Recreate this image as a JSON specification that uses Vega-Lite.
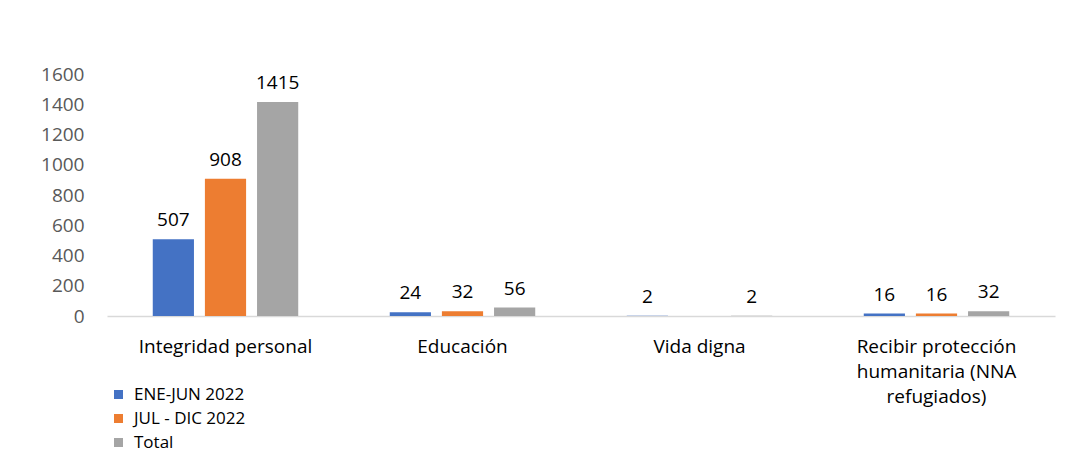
{
  "$schema": "https://vega.github.io/schema/vega-lite/v6.json",
  "width": 948,
  "height": 242,
  "autosize": {"type": "none"},
  "padding": {"left": 107, "top": 74, "right": 20, "bottom": 155},
  "background": "white",
  "config": {"view": {"stroke": null}, "font": "Open Sans"},
  "data": {
    "values": [
      {"categoria": "Integridad personal", "serie": "ENE-JUN 2022", "valor": 507},
      {"categoria": "Integridad personal", "serie": "JUL - DIC 2022", "valor": 908},
      {"categoria": "Integridad personal", "serie": "Total", "valor": 1415},
      {"categoria": "Educación", "serie": "ENE-JUN 2022", "valor": 24},
      {"categoria": "Educación", "serie": "JUL - DIC 2022", "valor": 32},
      {"categoria": "Educación", "serie": "Total", "valor": 56},
      {"categoria": "Vida digna", "serie": "ENE-JUN 2022", "valor": 2},
      {"categoria": "Vida digna", "serie": "JUL - DIC 2022", "valor": null},
      {"categoria": "Vida digna", "serie": "Total", "valor": 2},
      {"categoria": "Recibir protección humanitaria (NNA refugiados)", "serie": "ENE-JUN 2022", "valor": 16},
      {"categoria": "Recibir protección humanitaria (NNA refugiados)", "serie": "JUL - DIC 2022", "valor": 16},
      {"categoria": "Recibir protección humanitaria (NNA refugiados)", "serie": "Total", "valor": 32}
    ]
  },
  "encoding": {
    "x": {
      "field": "categoria",
      "type": "nominal",
      "sort": null,
      "scale": {"paddingInner": 0.34, "paddingOuter": 0.17},
      "axis": {
        "title": null,
        "labelAngle": 0,
        "ticks": false,
        "domainColor": "#d9d9d9",
        "domainWidth": 1.5,
        "labelFontSize": 19,
        "labelColor": "#000000",
        "labelPadding": 21,
        "labelLineHeight": 25,
        "labelLimit": 300,
        "labelExpr": "datum.value == 'Recibir protección humanitaria (NNA refugiados)' ? ['Recibir protección', 'humanitaria (NNA', 'refugiados)'] : datum.value"
      }
    },
    "xOffset": {
      "field": "serie",
      "type": "nominal",
      "sort": ["ENE-JUN 2022", "JUL - DIC 2022", "Total"],
      "scale": {"paddingInner": 0.21, "paddingOuter": 0.105}
    },
    "y": {
      "field": "valor",
      "type": "quantitative",
      "scale": {"domain": [0, 1600]},
      "axis": {
        "title": null,
        "values": [0, 200, 400, 600, 800, 1000, 1200, 1400, 1600],
        "format": "d",
        "grid": false,
        "domain": false,
        "ticks": false,
        "labelFontSize": 19,
        "labelColor": "#595959",
        "labelPadding": 23
      }
    },
    "color": {
      "field": "serie",
      "type": "nominal",
      "sort": ["ENE-JUN 2022", "JUL - DIC 2022", "Total"],
      "scale": {"domain": ["ENE-JUN 2022", "JUL - DIC 2022", "Total"], "range": ["#4472C4", "#ED7D31", "#A5A5A5"]},
      "legend": {
        "title": null,
        "orient": "none",
        "legendX": 3,
        "legendY": 312,
        "symbolType": "square",
        "symbolSize": 81,
        "symbolStrokeWidth": 0,
        "labelFontSize": 17,
        "labelColor": "#000000",
        "rowPadding": 6,
        "labelOffset": 7
      }
    }
  },
  "layer": [
    {"mark": {"type": "bar"}},
    {
      "mark": {"type": "text", "baseline": "bottom", "dy": -9, "fontSize": 19, "color": "#000000"},
      "encoding": {"text": {"field": "valor", "type": "quantitative"}, "color": {"value": "#000000"}}
    }
  ]
}
